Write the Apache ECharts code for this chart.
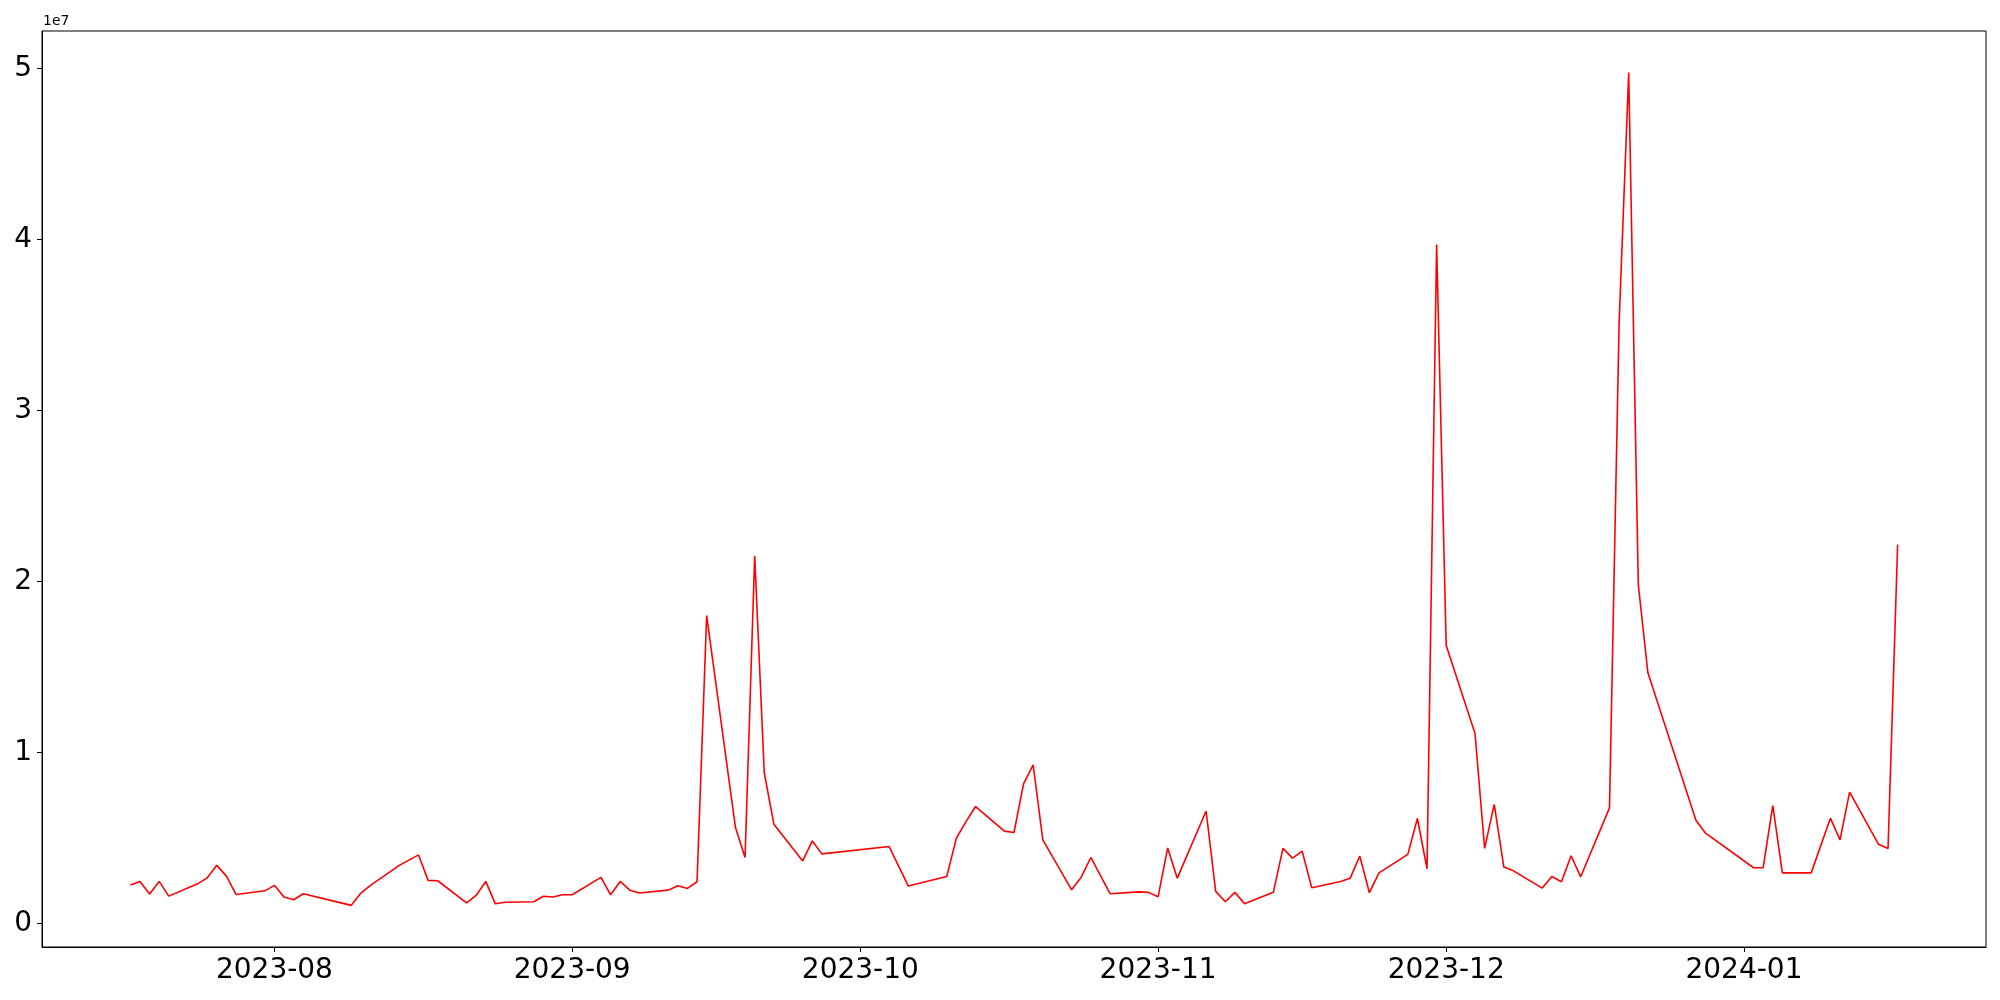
<!DOCTYPE html>
<html>
<head>
<meta charset="utf-8">
<script src="https://cdn.jsdelivr.net/npm/echarts@6/dist/echarts.min.js"></script>
<style>
  html, body { margin: 0; padding: 0; background: #fff; }
  #chart { width: 2000px; height: 1000px; }
</style>
</head>
<body>
<div id="chart"></div>
<script>
// daily values, weekdays only (gaps are where the picture shows a straight run)
const dates = [
  '2023-07-17', '2023-07-18', '2023-07-19', '2023-07-20', '2023-07-21',
  '2023-07-24', '2023-07-25', '2023-07-26', '2023-07-27', '2023-07-28',
  '2023-07-31', '2023-08-01', '2023-08-02', '2023-08-03', '2023-08-04',
  '2023-08-09', '2023-08-10', '2023-08-11',
  '2023-08-14', '2023-08-16', '2023-08-17', '2023-08-18',
  '2023-08-21', '2023-08-22', '2023-08-23', '2023-08-24', '2023-08-25',
  '2023-08-28', '2023-08-29', '2023-08-30', '2023-08-31', '2023-09-01',
  '2023-09-04', '2023-09-05', '2023-09-06', '2023-09-07', '2023-09-08',
  '2023-09-11', '2023-09-12', '2023-09-13', '2023-09-14', '2023-09-15',
  '2023-09-18', '2023-09-19', '2023-09-20', '2023-09-21', '2023-09-22',
  '2023-09-25', '2023-09-26', '2023-09-27',
  '2023-10-04', '2023-10-06',
  '2023-10-10', '2023-10-11', '2023-10-12', '2023-10-13',
  '2023-10-16', '2023-10-17', '2023-10-18', '2023-10-19', '2023-10-20',
  '2023-10-23', '2023-10-24', '2023-10-25', '2023-10-27',
  '2023-10-30', '2023-10-31', '2023-11-01', '2023-11-02', '2023-11-03',
  '2023-11-06', '2023-11-07', '2023-11-08', '2023-11-09', '2023-11-10',
  '2023-11-13', '2023-11-14', '2023-11-15', '2023-11-16', '2023-11-17',
  '2023-11-20', '2023-11-21', '2023-11-22', '2023-11-23', '2023-11-24',
  '2023-11-27', '2023-11-28', '2023-11-29', '2023-11-30', '2023-12-01',
  '2023-12-04', '2023-12-05', '2023-12-06', '2023-12-07', '2023-12-08',
  '2023-12-11', '2023-12-12', '2023-12-13', '2023-12-14', '2023-12-15',
  '2023-12-18', '2023-12-19', '2023-12-20', '2023-12-21', '2023-12-22',
  '2023-12-27', '2023-12-28',
  '2024-01-02', '2024-01-03', '2024-01-04', '2024-01-05',
  '2024-01-08', '2024-01-10', '2024-01-11', '2024-01-12',
  '2024-01-15', '2024-01-16', '2024-01-17'
];

const values = [
  2.24e6, 2.45e6, 1.71e6, 2.45e6, 1.59e6,
  2.31e6, 2.66e6, 3.39e6, 2.76e6, 1.69e6,
  1.90e6, 2.22e6, 1.54e6, 1.38e6, 1.73e6,
  1.05e6, 1.77e6, 2.22e6,
  3.39e6, 4.00e6, 2.51e6, 2.49e6,
  1.20e6, 1.63e6, 2.45e6, 1.14e6, 1.23e6,
  1.26e6, 1.58e6, 1.54e6, 1.67e6, 1.67e6,
  2.69e6, 1.67e6, 2.45e6, 1.94e6, 1.77e6,
  1.94e6, 2.20e6, 2.04e6, 2.43e6, 1.80e7,
  5.60e6, 3.85e6, 2.15e7, 8.79e6, 5.80e6,
  3.65e6, 4.82e6, 4.06e6,
  4.49e6, 2.18e6,
  2.74e6, 4.98e6, 5.95e6, 6.83e6,
  5.39e6, 5.31e6, 8.17e6, 9.26e6, 4.88e6,
  1.96e6, 2.70e6, 3.85e6, 1.73e6,
  1.84e6, 1.81e6, 1.55e6, 4.41e6, 2.64e6,
  6.57e6, 1.87e6, 1.26e6, 1.81e6, 1.14e6,
  1.81e6, 4.38e6, 3.81e6, 4.22e6, 2.08e6,
  2.45e6, 2.64e6, 3.93e6, 1.79e6, 2.95e6,
  4.03e6, 6.13e6, 3.19e6, 3.97e7, 1.625e7,
  1.11e7, 4.38e6, 6.96e6, 3.29e6, 3.07e6,
  2.06e6, 2.74e6, 2.43e6, 3.95e6, 2.72e6,
  6.75e6, 3.51e7, 4.975e7, 1.98e7, 1.465e7,
  6.03e6, 5.27e6,
  3.25e6, 3.25e6, 6.89e6, 2.95e6,
  2.95e6, 6.15e6, 4.88e6, 7.67e6,
  4.63e6, 4.38e6, 2.215e7
];

const monthTicks = ['2023-08-01', '2023-09-01', '2023-10-01', '2023-11-01', '2023-12-01', '2024-01-01'];
const yTicks = [0, 1e7, 2e7, 3e7, 4e7, 5e7];

const toTime = s => {
  const p = s.split('-').map(Number);
  return Date.UTC(p[0], p[1] - 1, p[2]);
};

const fmtMonth = t => {
  const d = new Date(t);
  return d.getUTCFullYear() + '-' + String(d.getUTCMonth() + 1).padStart(2, '0');
};

const times = dates.map(toTime);
const seriesData = times.map((t, i) => [t, values[i]]);

// matplotlib style 5% padding around the data
const tMin = Math.min(...times), tMax = Math.max(...times);
const vMin = Math.min(...values), vMax = Math.max(...values);
const padT = (tMax - tMin) * 0.05;
const padV = (vMax - vMin) * 0.05;

const font = 'DejaVu Sans';

const myChart = echarts.init(document.getElementById('chart'));

const option = {
  animation: false,
  backgroundColor: '#fff',
  grid: {
    left: 42,
    top: 31,
    width: 1944,
    height: 916,
    show: true,
    borderColor: '#000',
    borderWidth: 1,
    backgroundColor: 'transparent'
  },
  graphic: [
    {
      type: 'text',
      left: 43,
      top: 14,
      style: { text: '1e7', fontFamily: font, fontSize: 14, fill: '#000' }
    }
  ],
  xAxis: {
    // plain value axis holding timestamps, month ticks placed by hand
    type: 'value',
    min: tMin - padT,
    max: tMax + padT,
    splitLine: { show: false },
    axisLine: { show: true, onZero: false, lineStyle: { color: '#000', width: 1 } },
    axisTick: {
      show: true,
      length: 5,
      customValues: monthTicks.map(toTime),
      lineStyle: { color: '#000', width: 1 }
    },
    axisLabel: {
      customValues: monthTicks.map(toTime),
      formatter: v => fmtMonth(v),
      fontFamily: font,
      fontSize: 28,
      color: '#000',
      margin: 10
    }
  },
  yAxis: {
    type: 'value',
    min: vMin - padV,
    max: vMax + padV,
    splitLine: { show: false },
    axisLine: { show: true, onZero: false, lineStyle: { color: '#000', width: 1 } },
    axisTick: {
      show: true,
      length: 5,
      customValues: yTicks,
      lineStyle: { color: '#000', width: 1 }
    },
    axisLabel: {
      customValues: yTicks,
      formatter: v => String(Math.round(v / 1e7)),
      fontFamily: font,
      fontSize: 28,
      color: '#000',
      margin: 10
    }
  },
  series: [
    {
      type: 'line',
      data: seriesData,
      showSymbol: false,
      lineStyle: { color: '#ff0000', width: 1.6 },
      itemStyle: { color: '#ff0000' }
    }
  ]
};

option && myChart.setOption(option);
</script>
</body>
</html>
